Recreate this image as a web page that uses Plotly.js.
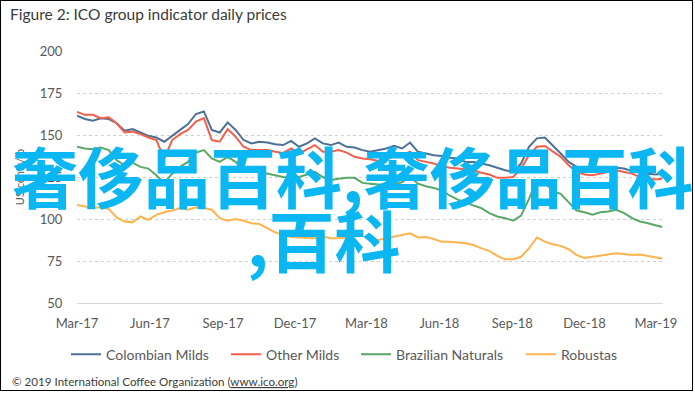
<!DOCTYPE html>
<html>
<head>
<meta charset="utf-8">
<script src="https://cdn.plot.ly/plotly-3.0.1.min.js"></script>
<style>
  html, body { margin: 0; padding: 0; background: #fff; }
  #wrap { position: relative; width: 695px; height: 394px; }
  #chart { width: 695px; height: 394px; }
  #frame { position: absolute; left: 0; top: 0; width: 691px; height: 389px; border: 1.5px solid #000; pointer-events: none; }
</style>
</head>
<body>
<div id="wrap"><div id="chart"></div><div id="frame"></div></div>
<script>
// ---- data (roughly every 10 days) ----
const dates = [
  "2017-03-01","2017-03-11","2017-03-21","2017-03-31","2017-04-10","2017-04-20","2017-04-30","2017-05-10","2017-05-20","2017-05-30",
  "2017-06-09","2017-06-19","2017-06-29","2017-07-09","2017-07-19","2017-07-29","2017-08-08","2017-08-18","2017-08-28","2017-09-07",
  "2017-09-17","2017-09-27","2017-10-07","2017-10-17","2017-10-27","2017-11-06","2017-11-16","2017-11-26","2017-12-06","2017-12-16",
  "2017-12-26","2018-01-05","2018-01-15","2018-01-25","2018-02-04","2018-02-14","2018-02-24","2018-03-06","2018-03-16","2018-03-26",
  "2018-04-05","2018-04-15","2018-04-25","2018-05-05","2018-05-15","2018-05-25","2018-06-04","2018-06-14","2018-06-24","2018-07-04",
  "2018-07-14","2018-07-24","2018-08-03","2018-08-13","2018-08-23","2018-09-02","2018-09-12","2018-09-22","2018-10-02","2018-10-12",
  "2018-10-22","2018-11-01","2018-11-11","2018-11-21","2018-12-01","2018-12-11","2018-12-21","2018-12-31","2019-01-10","2019-01-20",
  "2019-01-30","2019-02-09","2019-02-19","2019-03-01","2019-03-09"
];

const colombianMilds = [
  161.5,159.5,158.5,160,159.5,157,152.5,153.5,151.5,149.5,
  148.5,146,149.5,153,156.5,162.5,164,153,151.5,157.5,
  153,147,145,146,145.5,144.5,144,146.5,143,145,
  148,145,144,145.5,143,142.5,141,140,141,142,
  143.5,142,145.5,140,139,138,137.5,136.5,136,134,
  134,133,132,130.5,129,128,133,143,148,148.5,
  144,139,134,131,130,130.5,130,131,130.5,130,
  128.5,127.5,127,126.5,127
];

const otherMilds = [
  163.7,162,162,160,160.5,157,151.5,152,150.5,148.5,
  147,136,147,150.5,153,158,160,147,146,153.5,
  149,143,141,141,141,140,139.3,142,139,141.5,
  144,140,140,141,139.5,137,136,135.5,134.5,136,
  137,138,140,135,134,133,131.5,130.5,130,129.5,
  129,127.5,126.5,124.5,124.5,125,130,138,143,143.5,
  140,137,132,128,126.5,126,127,128,129,128,
  127,125,124,123.5,124
];

const brazilianNaturals = [
  143,142,141.5,142.5,141,135,132,133.5,131,130,
  126,121.5,127,131,134,139.5,141,136,134,137,
  134,130,129,128,127,126,125,124.5,125,126.5,
  128,125,123.2,124,124.5,124.5,121.5,121,120.5,120.5,
  120.2,122,125,121,119.5,118.5,117,114,111.5,110,
  108,106.5,103.5,101.5,100.5,99,102,112,123,122,
  116.5,115,110,105,104,102.5,104,104.5,105.5,103.5,
  100.5,98.5,97.5,96.2,95.2
];

const robustas = [
  108.3,107.5,106.5,107,106,101,98.5,98,101.5,99.5,
  102.5,104,105,106.5,105.5,107,106.5,105.5,100.5,99,
  100,99,97.5,97,94.5,92,90.5,89.3,89,88.7,
  88.5,89.5,88.5,88.5,89,89.5,90,88,87.5,88.5,
  89.5,90.5,91.5,89,89.3,88,86.5,86.5,86,85.5,
  84.5,82.5,81,78,76,76,77.5,82.5,89,86.5,
  85,84,82,78.5,76.8,77.4,78.3,78.8,79.6,79.2,
  78.6,78.8,78,77.2,76.5
];

const seriesNames = ["Colombian Milds", "Other Milds", "Brazilian Naturals", "Robustas"];
const seriesColors = ["#4b7196", "#f2604c", "#58a866", "#fdb44d"];
const tickDates = ["2017-03-01","2017-06-01","2017-09-01","2017-12-01","2018-03-01","2018-06-01","2018-09-01","2018-12-01","2019-03-01"];
const tickLabels = ["Mar-17","Jun-17","Sep-17","Dec-17","Mar-18","Jun-18","Sep-18","Dec-18","Mar-19"];
const yTicks = [50, 75, 100, 125, 150, 175, 200];

const titleText = "Figure 2: ICO group indicator daily prices";
const yTitle = "US cents/lb";
const sourceText = "© 2019 International Coffee Organization (<u>www.ico.org</u>)";
const watermark1 = "奢侈品百科,奢侈品百科";
const watermark2 = ",百科";

const legendIds = ["legend", "legend2", "legend3", "legend4"];
const legendLeftPx = [66, 226, 356, 521];

const allValues = [colombianMilds, otherMilds, brazilianNaturals, robustas];
const traces = allValues.map((vals, i) => ({
  type: "scatter",
  mode: "lines",
  x: dates,
  y: vals,
  name: seriesNames[i],
  legend: legendIds[i],
  line: { color: seriesColors[i], width: 2 }
}));

const fam = "Lato, 'Open Sans', sans-serif";
const tickFont = { family: fam, size: 13, color: "#595959" };

const layout = {
  width: 695,
  height: 394,
  margin: { l: 77, r: 32, t: 51, b: 91 },
  paper_bgcolor: "#ffffff",
  plot_bgcolor: "#ffffff",
  title: {
    text: titleText,
    xref: "container", yref: "container",
    x: 0.0145, xanchor: "left",
    y: 0.962, yanchor: "middle",
    font: { family: fam, size: 15.5, color: "#3a3a3a" }
  },
  xaxis: {
    type: "date",
    range: ["2017-03-01", "2019-03-10"],
    tickmode: "array",
    tickvals: tickDates,
    ticktext: tickLabels,
    showgrid: false,
    showline: true,
    linecolor: "#d9d9d9",
    linewidth: 1,
    ticks: "outside",
    ticklen: 8,
    tickcolor: "rgba(0,0,0,0)",
    tickfont: tickFont,
    zeroline: false,
    fixedrange: true
  },
  yaxis: {
    range: [50, 200],
    tickmode: "array",
    tickvals: yTicks,
    showgrid: true,
    gridcolor: "#d0d0d0",
    griddash: "dot",
    gridwidth: 1,
    showline: false,
    zeroline: false,
    ticks: "outside",
    ticklen: 11,
    tickcolor: "rgba(0,0,0,0)",
    tickfont: tickFont,
    title: { text: yTitle, standoff: 12, font: { family: fam, size: 11, color: "#595959" } },
    automargin: false,
    fixedrange: true
  },
  showlegend: true,
  annotations: [
    {
      text: sourceText,
      xref: "paper", yref: "paper",
      x: -0.115, xanchor: "left",
      y: -0.31, yanchor: "middle",
      showarrow: false,
      font: { family: fam, size: 11.6, color: "#404040" }
    },
    {
      text: watermark1,
      xref: "paper", yref: "paper",
      x: (352 - 77) / 586, xanchor: "center",
      y: (303 - 174) / 252, yanchor: "middle",
      showarrow: false,
      font: { family: "'Noto Sans CJK SC', sans-serif", size: 66, weight: "bold", color: "#0bb7f2" }
    },
    {
      text: watermark2,
      xref: "paper", yref: "paper",
      x: (323 - 77) / 586, xanchor: "center",
      y: (303 - 238) / 252, yanchor: "middle",
      showarrow: false,
      font: { family: "'Noto Sans CJK SC', sans-serif", size: 66, weight: "bold", color: "#0bb7f2" }
    }
  ]
};

legendIds.forEach((id, i) => {
  layout[id] = {
    orientation: "h",
    x: (legendLeftPx[i] - 77) / 586, xanchor: "left",
    y: -0.205, yanchor: "middle",
    font: { family: fam, size: 14, color: "#595959" },
    itemwidth: 30,
    bgcolor: "rgba(0,0,0,0)"
  };
});

Plotly.newPlot("chart", traces, layout, { displayModeBar: false, staticPlot: true });
</script>
</body>
</html>
